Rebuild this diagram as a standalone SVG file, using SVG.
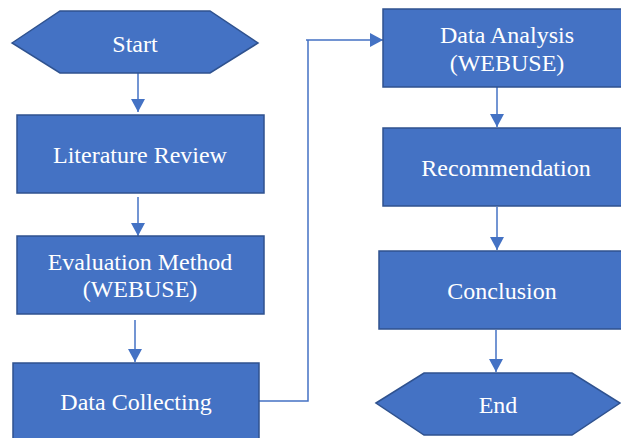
<svg xmlns="http://www.w3.org/2000/svg" width="621" height="438" viewBox="0 0 621 438">
<style>
.n{fill:#4472C4;stroke:#2F528F;stroke-width:1.5}
.t{font-family:"Liberation Serif","Times New Roman",serif;font-size:24px;fill:#FFFFFF;text-anchor:middle}
.c{fill:none;stroke:#4472C4;stroke-width:1.5}
</style>
<defs>
<marker id="ah" markerUnits="userSpaceOnUse" markerWidth="14" markerHeight="14" viewBox="0 0 14 14" refX="13" refY="7" orient="auto">
<path d="M0,0 L13,7 L0,14 Z" fill="#4472C4"/>
</marker>
</defs>
<rect width="621" height="438" fill="#FFFFFF"/>
<g id="connectors">
<line class="c" x1="138" y1="73" x2="138" y2="112" marker-end="url(#ah)"/>
<line class="c" x1="138" y1="197" x2="138" y2="236" marker-end="url(#ah)"/>
<line class="c" x1="135" y1="320" x2="135" y2="362" marker-end="url(#ah)"/>
<polyline class="c" points="259,401 308,401 308,40 306,40 383,40" marker-end="url(#ah)"/>
<line class="c" x1="497" y1="87" x2="497" y2="127" marker-end="url(#ah)"/>
<line class="c" x1="497" y1="207" x2="497" y2="250" marker-end="url(#ah)"/>
<line class="c" x1="496" y1="330" x2="496" y2="372" marker-end="url(#ah)"/>
</g>
<g id="start">
<polygon class="n" points="12,43 60,11 210,11 258,43 210,73 60,73"/>
<text class="t" x="135" y="52">Start</text>
</g>
<g id="literature">
<rect class="n" x="17" y="115" width="247" height="78"/>
<text class="t" x="140" y="163">Literature Review</text>
</g>
<g id="evaluation">
<rect class="n" x="17" y="236" width="247" height="78"/>
<text class="t" x="140" y="270">Evaluation Method</text>
<text class="t" x="140" y="297">(WEBUSE)</text>
</g>
<g id="collecting">
<rect class="n" x="13" y="363" width="246" height="80"/>
<text class="t" x="136" y="410">Data Collecting</text>
</g>
<g id="analysis">
<rect class="n" x="383" y="9" width="247" height="78"/>
<text class="t" x="507" y="43">Data Analysis</text>
<text class="t" x="507" y="71">(WEBUSE)</text>
</g>
<g id="recommendation">
<rect class="n" x="383" y="128" width="247" height="78"/>
<text class="t" x="506" y="176">Recommendation</text>
</g>
<g id="conclusion">
<rect class="n" x="379" y="251" width="247" height="78"/>
<text class="t" x="502" y="299">Conclusion</text>
</g>
<g id="end">
<polygon class="n" points="376,403 424,373 572,373 620,403 572,435 424,435"/>
<text class="t" x="498" y="413">End</text>
</g>
</svg>
